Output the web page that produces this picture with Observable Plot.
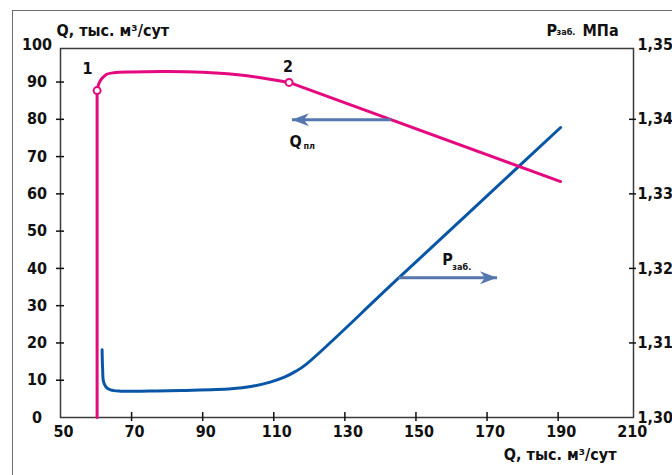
<!DOCTYPE html>
<html>
<head>
<meta charset="utf-8">
<script src="https://cdn.jsdelivr.net/npm/d3@7"></script>
<script src="https://cdn.jsdelivr.net/npm/@observablehq/plot@0.6"></script>
<style>
  html, body { margin: 0; padding: 0; background: #fff; }
  #wrap { position: relative; width: 672px; height: 475px; overflow: hidden; }
  #border { position: absolute; left: 12px; top: 10px; width: 720px; height: 520px;
            border-left: 1.5px solid #6d6d6d; border-top: 1.5px solid #6d6d6d; }
  #chart { position: absolute; left: 0; top: 0; }
</style>
</head>
<body>
<div id="wrap"><div id="border"></div><div id="chart"></div></div>
<script>
// ---- data ----
const qX = [60.3, 60.3, 60.8, 61.7, 63.0, 65.0, 70, 80, 90, 97, 103, 108, 114.3, 190.7];
const qY = [0, 87.7, 89.6, 91.0, 92.1, 92.5, 92.7, 92.8, 92.6, 92.2, 91.6, 90.9, 89.9, 63.3];
const pX = [61.7, 61.85, 62.1, 62.8, 64.1, 66.9, 75, 84, 98, 104, 109, 113, 116, 119, 145, 190.7];
const pY = [1.3091, 1.3065, 1.3048, 1.3041, 1.3037, 1.30353, 1.30355, 1.30363, 1.30385, 1.3042, 1.30475, 1.3054, 1.30615, 1.3071, 1.31865, 1.3389];
const markedX = [60.3, 114.3];
const markedQ = [87.7, 89.9];
const markedLabels = ["1", "2"];
const xTickValues = [50, 70, 90, 110, 130, 150, 170, 190, 210];
const xTickMarks = [70, 90, 110, 130, 150, 170, 190];
const qTickValues = [0, 10, 20, 30, 40, 50, 60, 70, 80, 90, 100];
const qTickMarks = [10, 20, 30, 40, 50, 60, 70, 80, 90];
const pTickValues = [1.30, 1.31, 1.32, 1.33, 1.34, 1.35];
const pTickLabels = ["1,30", "1,31", "1,32", "1,33", "1,34", "1,35"];
const pTickMarks = [1.31, 1.32, 1.33, 1.34];
const pMin = 1.30, pMax = 1.35, qMin = 0, qMax = 100;
// arrows: start x, level (own units), end x
const qArrow = {x1: 143, q: 79.9, x2: 115.1};
const pArrow = {x1: 145.05, p: 1.31875, x2: 172.8};
const titleQ = "Q, тыс. м³/сут";

// ---- helpers ----
const pToQ = p => qMin + (p - pMin) / (pMax - pMin) * (qMax - qMin);
const qData = qX.map((x, i) => ({x, y: qY[i]}));
const pData = pX.map((x, i) => ({x, y: pToQ(pY[i])}));
const marked = markedX.map((x, i) => ({x, y: markedQ[i], label: markedLabels[i]}));
const i2 = qX.indexOf(markedX[1]);

const PINK = "#e5097f", BLUE = "#0a56a6", ARROW = "#5577ae";
const FONT = "'DejaVu Sans Condensed', 'DejaVu Sans', sans-serif";
const T = {fontFamily: FONT, fontWeight: "bold", fontSize: 16, fill: "#111"};
const SUB = {fontFamily: FONT, fontWeight: "bold", fontSize: 9, fill: "#111"};

// swept arrowhead pointing to +x, tip at origin
const arrowHead = {
  draw(ctx) {
    ctx.moveTo(0, 0);
    ctx.lineTo(-17, -6.5);
    ctx.lineTo(-12, 0);
    ctx.lineTo(-17, 6.5);
    ctx.closePath();
  }
};

const chart = Plot.plot({
  width: 672,
  height: 475,
  marginTop: 48,
  marginBottom: 58,
  marginLeft: 60,
  marginRight: 39,
  x: {domain: [50, 211.2], axis: null},
  y: {domain: [0, 99], axis: null},
  style: {fontFamily: FONT, overflow: "visible", background: "transparent"},
  marks: [
    Plot.frame({stroke: "#3a3a3a", strokeWidth: 1.5}),
    Plot.axisX({ticks: xTickMarks, tickSize: 9, dy: -5, tickFormat: () => "", label: null, stroke: "#111", strokeWidth: 1.5}),
    Plot.axisY({ticks: qTickMarks, anchor: "left", tickSize: 8, dx: 4, tickFormat: () => "", label: null, stroke: "#111", strokeWidth: 1.5}),
    Plot.axisY({ticks: pTickMarks.map(pToQ), anchor: "right", tickSize: 7, dx: -5, tickFormat: () => "", label: null, stroke: "#111", strokeWidth: 1.5}),
    Plot.text(xTickValues, {x: d => d, text: d => String(d), frameAnchor: "bottom", dy: 19, dx: 3, ...T}),
    Plot.text(qTickValues, {y: d => d, text: d => String(d), frameAnchor: "left", dx: -23.5, textAnchor: "middle", ...T}),
    Plot.text(pTickValues, {y: d => pToQ(d), text: (d, i) => pTickLabels[i], frameAnchor: "right", dx: 4, textAnchor: "start", ...T}),
    // titles
    Plot.text([titleQ], {frameAnchor: "top-left", dx: -4, dy: -24, textAnchor: "start", ...T}),
    Plot.text(["P"], {frameAnchor: "top-right", dx: -87, dy: -24, textAnchor: "start", ...T}),
    Plot.text(["заб."], {frameAnchor: "top-right", dx: -77, dy: -20, textAnchor: "start", ...SUB}),
    Plot.text(["МПа"], {frameAnchor: "top-right", dx: -51, dy: -24, textAnchor: "start", ...T}),
    Plot.text([titleQ], {frameAnchor: "bottom-right", dx: -17, dy: 42.5, textAnchor: "end", ...T}),
    // curves
    Plot.line(pData, {x: "x", y: "y", stroke: BLUE, strokeWidth: 3, curve: "catmull-rom"}),
    Plot.line(qData.slice(0, 2), {x: "x", y: "y", stroke: PINK, strokeWidth: 3}),
    Plot.line(qData.slice(1, i2 + 1), {x: "x", y: "y", stroke: PINK, strokeWidth: 3, curve: "catmull-rom"}),
    Plot.line(qData.slice(i2), {x: "x", y: "y", stroke: PINK, strokeWidth: 3}),
    Plot.dot(marked, {x: "x", y: "y", r: 3.5, fill: "white", stroke: PINK, strokeWidth: 2}),
    Plot.text(marked.slice(0, 1), {x: "x", y: "y", text: "label", dx: -9.5, dy: -21.5, ...T}),
    Plot.text(marked.slice(1, 2), {x: "x", y: "y", text: "label", dx: -1, dy: -16, ...T}),
    // arrows
    Plot.link([qArrow], {x1: "x1", x2: "x2", y1: d => d.q, y2: d => d.q, stroke: ARROW, strokeWidth: 3}),
    Plot.dot([qArrow], {x: "x2", y: d => d.q, symbol: arrowHead, rotate: 180, fill: ARROW, stroke: "none"}),
    Plot.link([pArrow], {x1: "x1", x2: "x2", y1: d => pToQ(d.p), y2: d => pToQ(d.p), stroke: ARROW, strokeWidth: 3}),
    Plot.dot([pArrow], {x: "x2", y: d => pToQ(d.p), symbol: arrowHead, rotate: 0, fill: ARROW, stroke: "none"}),
    // arrow labels
    Plot.text([qArrow], {x: "x2", y: d => d.q, text: () => "Q", dx: -2.5, dy: 22.5, textAnchor: "start", ...T}),
    Plot.text([qArrow], {x: "x2", y: d => d.q, text: () => "пл", dx: 11.5, dy: 26, textAnchor: "start", ...SUB}),
    Plot.text([pArrow], {x: "x1", y: d => pToQ(d.p), text: () => "P", dx: 44, dy: -17.5, textAnchor: "start", ...T}),
    Plot.text([pArrow], {x: "x1", y: d => pToQ(d.p), text: () => "заб.", dx: 54, dy: -11, textAnchor: "start", ...SUB})
  ]
});
document.getElementById("chart").appendChild(chart);
</script>
</body>
</html>
